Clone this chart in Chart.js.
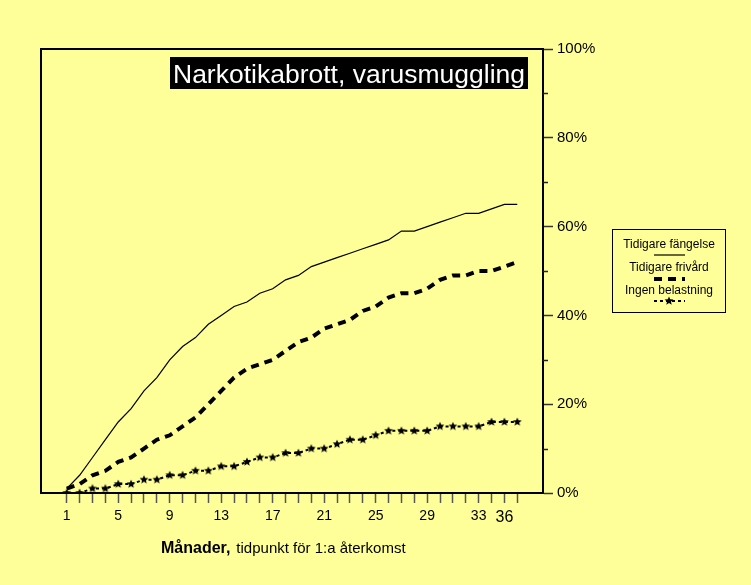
<!DOCTYPE html>
<html><head><meta charset="utf-8">
<script src="https://cdn.jsdelivr.net/npm/chart.js@4.4.1/dist/chart.umd.min.js"></script>
<style>html,body{margin:0;padding:0;background:#FFFF99;}#wrap{width:751px;height:585px;position:relative;}</style>
</head><body><div id="wrap"><canvas id="c" width="751" height="585"></canvas></div>
<script>
const months = [1,2,3,4,5,6,7,8,9,10,11,12,13,14,15,16,17,18,19,20,21,22,23,24,25,26,27,28,29,30,31,32,33,34,35,36];
const xTickLabels = ['1','','','','5','','','','9','','','','13','','','','17','','','','21','','','','25','','','','29','','','','33','','36',''];
const seriesNames = ['Tidigare fängelse','Tidigare frivård','Ingen belastning'];
const fangelse = [1,4,8,12,16,19,23,26,30,33,35,38,40,42,43,45,46,48,49,51,52,53,54,55,56,57,59,59,60,61,62,63,63,64,65,65];
const frivard  = [1,2,4,5,7,8,10,12,13,15,17,20,23,26,28,29,30,32,34,35,37,38,39,41,42,44,45,45,46,48,49,49,50,50,51,52];
const ingen    = [0,0,1,1,2,2,3,3,4,4,5,5,6,6,7,8,8,9,9,10,10,11,12,12,13,14,14,14,14,15,15,15,15,16,16,16];
const chartTitle = 'Narkotikabrott, varusmuggling';
const xTitleBold = 'Månader,';
const xTitleRest = 'tidpunkt för 1:a återkomst';

const FONT = '"Liberation Sans", Arial, sans-serif';

function makeStar(R){
  const s = Math.ceil(R*2+2);
  const c = document.createElement('canvas'); c.width = s; c.height = s;
  const g = c.getContext('2d'); g.fillStyle = '#000'; g.beginPath();
  for (let i=0;i<10;i++){
    const r = i%2 ? R*0.45 : R;
    const a = -Math.PI/2 + i*Math.PI/5;
    g.lineTo(s/2 + r*Math.cos(a), s/2 + r*Math.sin(a));
  }
  g.closePath(); g.fill();
  return c;
}
const star = makeStar(4.6);

function pts(arr){ return months.map((m,i)=>({x:m, y:arr[i]})); }

const decor = {
  id:'decor',
  afterDraw(chart){
    const {ctx, chartArea:a, scales} = chart;
    ctx.save();
    // plot box (left and top)
    ctx.strokeStyle = '#000'; ctx.lineWidth = 2;
    ctx.beginPath(); ctx.moveTo(a.left, a.bottom); ctx.lineTo(a.left, a.top); ctx.lineTo(a.right, a.top); ctx.stroke();
    // minor y ticks
    const y = scales.y;
    ctx.strokeStyle = '#222'; ctx.lineWidth = 1.5;
    for (let i=0;i<y.ticks.length-1;i++){
      const v = (y.ticks[i].value + y.ticks[i+1].value)/2;
      const p = Math.round(y.getPixelForValue(v))+0.5;
      ctx.beginPath(); ctx.moveTo(a.right, p); ctx.lineTo(a.right+5, p); ctx.stroke();
    }
    // title
    ctx.font = '25px ' + FONT;
    const tw = ctx.measureText(chartTitle).width;
    const bx = 170, bw = 358, by = 57, bh = 32;
    ctx.fillStyle = '#000'; ctx.fillRect(bx, by, bw, bh);
    ctx.save();
    ctx.translate(bx+3, 83);
    ctx.scale((bw-6)/tw, 1);
    ctx.fillStyle = '#fff'; ctx.textBaseline = 'alphabetic'; ctx.textAlign = 'left';
    ctx.fillText(chartTitle, 0, 0);
    ctx.restore();
    // x axis title
    ctx.fillStyle = '#000'; ctx.textAlign = 'left'; ctx.textBaseline = 'alphabetic';
    ctx.font = 'bold 16px ' + FONT;
    ctx.fillText(xTitleBold, 161, 553);
    const bwid = ctx.measureText(xTitleBold).width;
    ctx.font = '15px ' + FONT;
    ctx.fillText(xTitleRest, 161 + bwid + 6, 553);
    // legend
    ctx.fillStyle = '#FFFF99';
    ctx.fillRect(612, 229, 113, 83);
    ctx.strokeStyle = '#000'; ctx.lineWidth = 1;
    ctx.strokeRect(612.5, 229.5, 113, 83);
    ctx.fillStyle = '#000'; ctx.font = '12px ' + FONT; ctx.textAlign = 'center';
    const cx = 669;
    const ds = chart.data.datasets;
    const rows = [{t:248, s:255},{t:271, s:279},{t:294, s:301}];
    rows.forEach((r,i)=>{
      ctx.fillStyle = '#000';
      ctx.fillText(ds[i].label, cx, r.t);
      ctx.save();
      ctx.strokeStyle = '#000';
      ctx.lineWidth = ds[i].borderWidth;
      ctx.setLineDash(ds[i].borderDash || []);
      ctx.beginPath(); ctx.moveTo(654, r.s); ctx.lineTo(685, r.s); ctx.stroke();
      ctx.restore();
      if (ds[i].pointStyle && typeof ds[i].pointStyle === 'object'){
        ctx.drawImage(star, cx - star.width/2, r.s - star.height/2);
      }
    });
    ctx.restore();
  }
};

new Chart(document.getElementById('c'), {
  type:'line',
  data:{
    datasets:[
      {label:seriesNames[0], data:pts(fangelse), borderColor:'#000', borderWidth:1.2, pointRadius:0, tension:0, fill:false},
      {label:seriesNames[1], data:pts(frivard), borderColor:'#000', borderWidth:4, borderDash:[8,6], pointRadius:0, tension:0, fill:false, borderCapStyle:'butt'},
      {label:seriesNames[2], data:pts(ingen), borderColor:'#000', borderWidth:2, borderDash:[3,3], pointStyle:star, pointRadius:4.6, tension:0, fill:false}
    ]
  },
  options:{
    responsive:false, animation:false, devicePixelRatio:1,
    layout:{padding:{left:41, top:49, right:0, bottom:0}},
    plugins:{legend:{display:false}, title:{display:false}, tooltip:{enabled:false}},
    scales:{
      x:{
        type:'linear', min:-1, max:38,
        afterBuildTicks(scale){ scale.ticks = months.map(m=>({value:m})); },
        afterFit(scale){ scale.height = 92; },
        grid:{drawOnChartArea:false, drawTicks:true, tickLength:10, tickColor:'#555', tickWidth:1.5},
        border:{display:true, color:'#000', width:2},
        ticks:{
          autoSkip:false, maxRotation:0, padding:5, color:'#000',
          callback:(v)=> xTickLabels[months.indexOf(v)] || '',
          font:(c)=> ({family:FONT, size: (c.tick && xTickLabels[months.indexOf(c.tick.value)]==='36') ? 16 : 14})
        }
      },
      y:{
        position:'right', min:0, max:100,
        afterFit(scale){ scale.width = 208; },
        grid:{drawOnChartArea:false, drawTicks:true, tickLength:10, tickColor:'#333', tickWidth:1.5},
        border:{display:true, color:'#000', width:2},
        ticks:{stepSize:20, padding:4, color:'#000', font:{family:FONT, size:15}, callback:(v)=> v+'%'}
      }
    }
  },
  plugins:[decor]
});
</script>
</body></html>
